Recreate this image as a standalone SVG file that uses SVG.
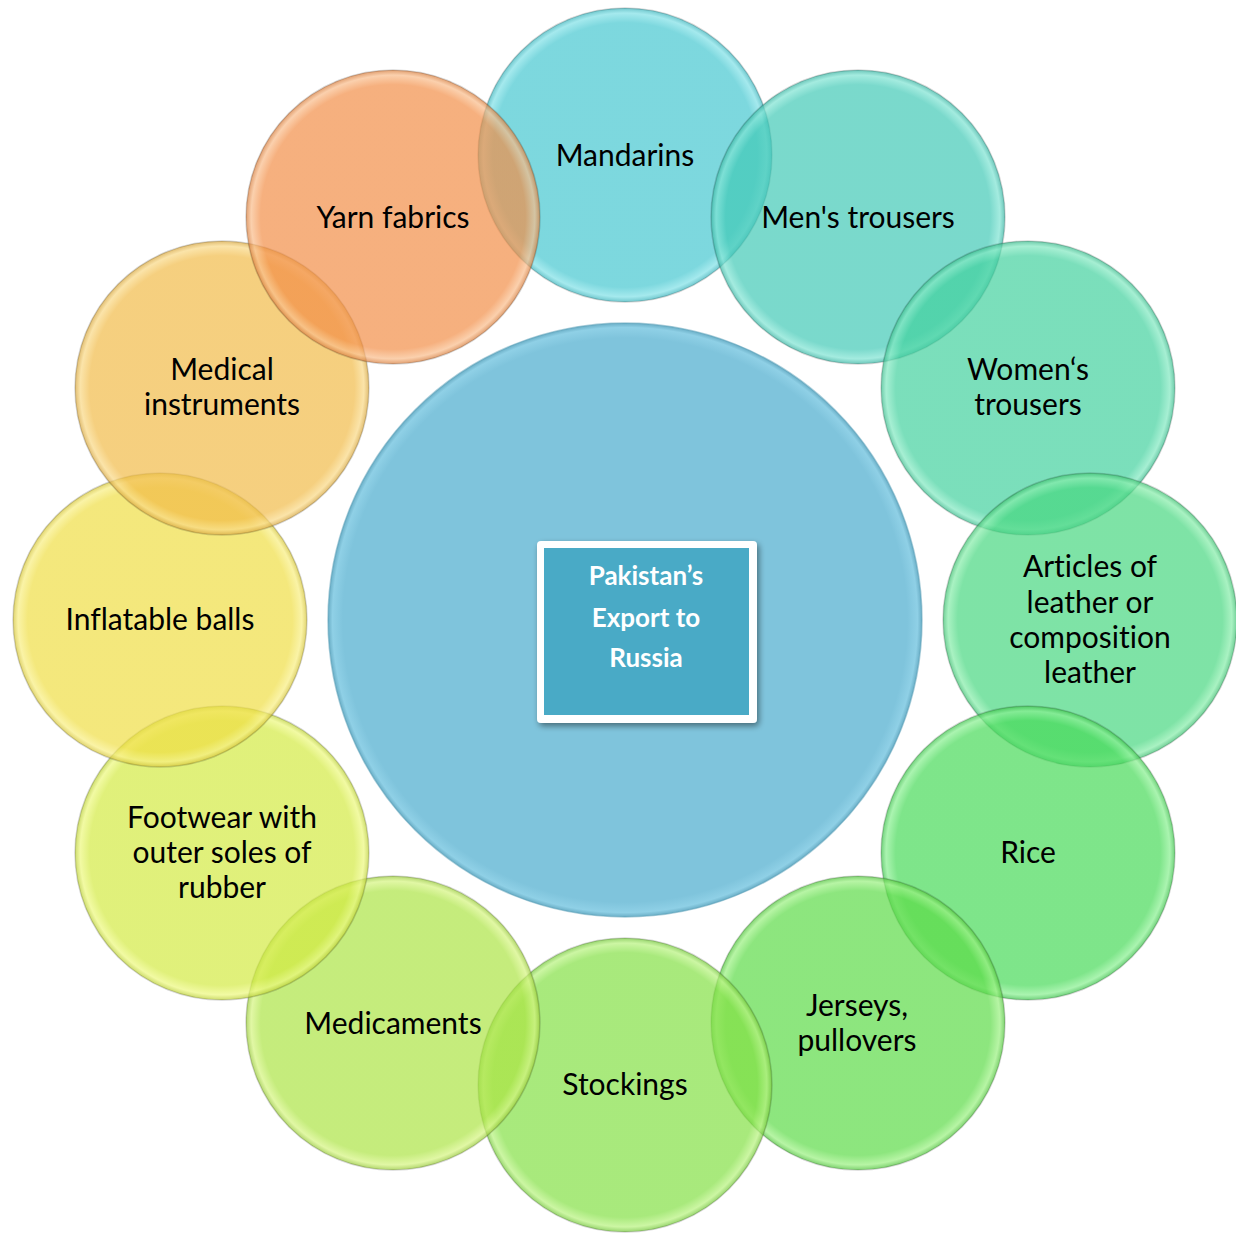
<svg xmlns="http://www.w3.org/2000/svg" width="1236" height="1234" viewBox="0 0 1236 1234">
  <style>
    .lbl { font-family: Lato, "Open Sans", "Liberation Sans", sans-serif; font-size: 30px; fill: #000; text-anchor: middle; font-variant-ligatures: none; }
    .ttl { font-family: Lato, "Open Sans", "Liberation Sans", sans-serif; font-size: 26px; font-weight: bold; fill: #fff; text-anchor: middle; }
    .bub { stroke: #000; stroke-opacity: 0.16; stroke-width: 1.5; }
  </style>
  <defs>
    <!-- translucent bubble fills: flat body, lighter rim just inside the edge -->
    <radialGradient id="gMandarins"><stop offset="0" stop-color="#45c7d0" stop-opacity="0.7"/><stop offset="0.9" stop-color="#45c7d0" stop-opacity="0.7"/><stop offset="0.965" stop-color="#7ee0e6" stop-opacity="0.7"/><stop offset="1" stop-color="#3fb4bc" stop-opacity="0.75"/></radialGradient>
    <radialGradient id="gMen"><stop offset="0" stop-color="#41c9b6" stop-opacity="0.7"/><stop offset="0.9" stop-color="#41c9b6" stop-opacity="0.7"/><stop offset="0.965" stop-color="#7de3d2" stop-opacity="0.7"/><stop offset="1" stop-color="#3ab3a2" stop-opacity="0.75"/></radialGradient>
    <radialGradient id="gWomen"><stop offset="0" stop-color="#42d19e" stop-opacity="0.7"/><stop offset="0.9" stop-color="#42d19e" stop-opacity="0.7"/><stop offset="0.965" stop-color="#80e8c0" stop-opacity="0.7"/><stop offset="1" stop-color="#3bb98c" stop-opacity="0.75"/></radialGradient>
    <radialGradient id="gArticles"><stop offset="0" stop-color="#47d780" stop-opacity="0.7"/><stop offset="0.9" stop-color="#47d780" stop-opacity="0.7"/><stop offset="0.965" stop-color="#84eca8" stop-opacity="0.7"/><stop offset="1" stop-color="#3fbe72" stop-opacity="0.75"/></radialGradient>
    <radialGradient id="gRice"><stop offset="0" stop-color="#47da58" stop-opacity="0.7"/><stop offset="0.9" stop-color="#47da58" stop-opacity="0.7"/><stop offset="0.965" stop-color="#86ef8e" stop-opacity="0.7"/><stop offset="1" stop-color="#3fc14e" stop-opacity="0.75"/></radialGradient>
    <radialGradient id="gJerseys"><stop offset="0" stop-color="#5cdb47" stop-opacity="0.7"/><stop offset="0.9" stop-color="#5cdb47" stop-opacity="0.7"/><stop offset="0.965" stop-color="#98f07e" stop-opacity="0.7"/><stop offset="1" stop-color="#52c23f" stop-opacity="0.75"/></radialGradient>
    <radialGradient id="gStockings"><stop offset="0" stop-color="#83e044" stop-opacity="0.7"/><stop offset="0.9" stop-color="#83e044" stop-opacity="0.7"/><stop offset="0.965" stop-color="#b6f27c" stop-opacity="0.7"/><stop offset="1" stop-color="#74c63c" stop-opacity="0.75"/></radialGradient>
    <radialGradient id="gMedicaments"><stop offset="0" stop-color="#ace444" stop-opacity="0.7"/><stop offset="0.9" stop-color="#ace444" stop-opacity="0.7"/><stop offset="0.965" stop-color="#d4f47e" stop-opacity="0.7"/><stop offset="1" stop-color="#98c93c" stop-opacity="0.75"/></radialGradient>
    <radialGradient id="gFootwear"><stop offset="0" stop-color="#d3ea42" stop-opacity="0.7"/><stop offset="0.9" stop-color="#d3ea42" stop-opacity="0.7"/><stop offset="0.965" stop-color="#ecf87c" stop-opacity="0.7"/><stop offset="1" stop-color="#bbcf3a" stop-opacity="0.75"/></radialGradient>
    <radialGradient id="gBalls"><stop offset="0" stop-color="#efde44" stop-opacity="0.7"/><stop offset="0.9" stop-color="#efde44" stop-opacity="0.7"/><stop offset="0.965" stop-color="#f8ee80" stop-opacity="0.7"/><stop offset="1" stop-color="#d4c43c" stop-opacity="0.75"/></radialGradient>
    <radialGradient id="gInstruments"><stop offset="0" stop-color="#f1bb48" stop-opacity="0.7"/><stop offset="0.9" stop-color="#f1bb48" stop-opacity="0.7"/><stop offset="0.965" stop-color="#f9d884" stop-opacity="0.7"/><stop offset="1" stop-color="#d6a640" stop-opacity="0.75"/></radialGradient>
    <radialGradient id="gYarn"><stop offset="0" stop-color="#f28e47" stop-opacity="0.7"/><stop offset="0.9" stop-color="#f28e47" stop-opacity="0.7"/><stop offset="0.965" stop-color="#f9bc8a" stop-opacity="0.7"/><stop offset="1" stop-color="#d67e3f" stop-opacity="0.75"/></radialGradient>
    <radialGradient id="gHub"><stop offset="0" stop-color="#7fc4dc"/><stop offset="0.95" stop-color="#7fc4dc"/><stop offset="0.985" stop-color="#8fd0e6"/><stop offset="1" stop-color="#6aaec6"/></radialGradient>
    <filter id="boxShadow" x="-20%" y="-20%" width="140%" height="140%">
      <feGaussianBlur in="SourceAlpha" stdDeviation="3"/>
      <feOffset dx="2" dy="3" result="b"/>
      <feComponentTransfer><feFuncA type="linear" slope="0.45"/></feComponentTransfer>
      <feMerge><feMergeNode/><feMergeNode in="SourceGraphic"/></feMerge>
    </filter>
  </defs>

  <rect width="1236" height="1234" fill="#fff"/>

  <g id="connectors"/>

  <g id="hub">
    <circle cx="625" cy="620" r="297" fill="url(#gHub)" stroke="#5b9fb8" stroke-opacity="0.5" stroke-width="1.5"/>
    <g filter="url(#boxShadow)">
      <rect x="537" y="541" width="220" height="182" rx="4" fill="#fff"/>
      <rect x="544" y="548" width="205" height="167" fill="#4aaac6"/>
    </g>
    <text class="ttl" x="646" y="585">Pakistan’s</text>
    <text class="ttl" x="646" y="627">Export to</text>
    <text class="ttl" x="646" y="667">Russia</text>
  </g>

  <g id="node-mandarins">
    <circle class="bub" cx="625" cy="155" r="147" fill="url(#gMandarins)"/>
    <text class="lbl" x="625" y="166">Mandarins</text>
  </g>
  <g id="node-mens-trousers">
    <circle class="bub" cx="858" cy="217" r="147" fill="url(#gMen)"/>
    <text class="lbl" x="858" y="228">Men's trousers</text>
  </g>
  <g id="node-womens-trousers">
    <circle class="bub" cx="1028" cy="388" r="147" fill="url(#gWomen)"/>
    <text class="lbl" x="1028" y="380">Women‘s</text>
    <text class="lbl" x="1028" y="415">trousers</text>
  </g>
  <g id="node-leather">
    <circle class="bub" cx="1090" cy="620" r="147" fill="url(#gArticles)"/>
    <text class="lbl" x="1090" y="577">Articles of</text>
    <text class="lbl" x="1090" y="613">leather or</text>
    <text class="lbl" x="1090" y="648">composition</text>
    <text class="lbl" x="1090" y="683">leather</text>
  </g>
  <g id="node-rice">
    <circle class="bub" cx="1028" cy="853" r="147" fill="url(#gRice)"/>
    <text class="lbl" x="1028" y="863">Rice</text>
  </g>
  <g id="node-jerseys">
    <circle class="bub" cx="858" cy="1023" r="147" fill="url(#gJerseys)"/>
    <text class="lbl" x="857" y="1016">Jerseys,</text>
    <text class="lbl" x="857" y="1051">pullovers</text>
  </g>
  <g id="node-stockings">
    <circle class="bub" cx="625" cy="1085" r="147" fill="url(#gStockings)"/>
    <text class="lbl" x="625" y="1095">Stockings</text>
  </g>
  <g id="node-medicaments">
    <circle class="bub" cx="393" cy="1023" r="147" fill="url(#gMedicaments)"/>
    <text class="lbl" x="393" y="1034">Medicaments</text>
  </g>
  <g id="node-footwear">
    <circle class="bub" cx="222" cy="853" r="147" fill="url(#gFootwear)"/>
    <text class="lbl" x="222" y="828">Footwear with</text>
    <text class="lbl" x="222" y="863">outer soles of</text>
    <text class="lbl" x="222" y="898">rubber</text>
  </g>
  <g id="node-balls">
    <circle class="bub" cx="160" cy="620" r="147" fill="url(#gBalls)"/>
    <text class="lbl" x="160" y="630">Inflatable balls</text>
  </g>
  <g id="node-instruments">
    <circle class="bub" cx="222" cy="388" r="147" fill="url(#gInstruments)"/>
    <text class="lbl" x="222" y="380">Medical</text>
    <text class="lbl" x="222" y="415">instruments</text>
  </g>
  <g id="node-yarn">
    <circle class="bub" cx="393" cy="217" r="147" fill="url(#gYarn)"/>
    <text class="lbl" x="393" y="228">Yarn fabrics</text>
  </g>
</svg>
